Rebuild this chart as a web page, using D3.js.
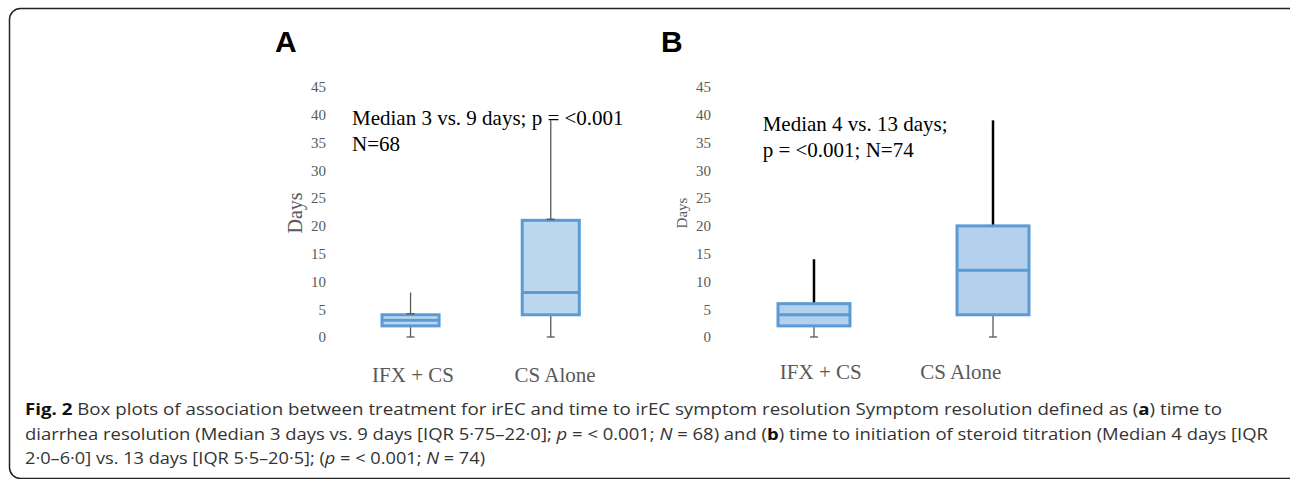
<html>
<head>
<meta charset="utf-8">
<title>Fig. 2 box plots</title>
<style>
  body { margin: 0; background: #fff; }
</style>
</head>
<body>
<script src="https://cdn.jsdelivr.net/npm/d3@7"></script>
<script>
  // ---- data ----
  var categories = ["IFX + CS", "CS Alone"];
  var yTicks = [0, 5, 10, 15, 20, 25, 30, 35, 40, 45];

  // panel A: time to diarrhea resolution
  var aMin = [0, 0];
  var aQ1 = [2, 4];
  var aMedian = [3, 8];
  var aQ3 = [4, 21];
  var aMax = [8, 39];
  var aNote = ["Median 3 vs. 9 days; p = <0.001", "N=68"];

  // panel B: time to initiation of steroid titration
  var bMin = [0, 0];
  var bQ1 = [2, 4];
  var bMedian = [4, 12];
  var bQ3 = [6, 20];
  var bMax = [14, 39];
  var bNote = ["Median 4 vs. 13 days;", "p = <0.001; N=74"];

  var width = 1290, height = 479;
  var svg = d3.select('body').append('svg')
      .attr('width', width)
      .attr('height', height);

  // frame round the figure
  svg.append('rect')
      .attr('x', 9.5).attr('y', 8.5)
      .attr('width', 1290).attr('height', 470)
      .attr('rx', 11)
      .attr('fill', 'none')
      .attr('stroke', '#222')
      .attr('stroke-width', 1.5);

  var y = d3.scaleLinear().domain([0, 45]).range([337, 87]);

  var serif = "'Liberation Serif', 'Times New Roman', serif";
  var blue = '#5b9bd5';

  function drawPanel(p) {
    var g = svg.append('g');
    var n = categories.map(function (c, i) {
      return { c: c, min: p.min[i], q1: p.q1[i], med: p.median[i], q3: p.q3[i], max: p.max[i] };
    });

    // panel letter
    g.append('text')
        .attr('x', p.letterX).attr('y', 52)
        .attr('font-family', "'Liberation Sans', Arial, sans-serif")
        .attr('font-weight', 'bold')
        .attr('font-size', 30)
        .attr('fill', '#000')
        .text(p.letter);

    // y axis: labels only, no line or ticks
    var axis = g.append('g')
        .attr('transform', 'translate(' + p.axisX + ',0)')
        .call(d3.axisLeft(y).tickValues(yTicks).tickSize(0).tickPadding(0));
    axis.select('.domain').remove();
    axis.selectAll('text')
        .attr('font-family', serif)
        .attr('font-size', 15)
        .attr('fill', '#595959');

    g.append('text')
        .attr('transform', 'translate(' + p.titleX + ',213) rotate(-90)')
        .attr('text-anchor', 'middle')
        .attr('dy', '0.35em')
        .attr('font-family', serif)
        .attr('font-size', p.titleSize)
        .attr('fill', '#595959')
        .text('Days');

    // category labels
    var xl = d3.scalePoint().domain(categories).range(p.labelRange).padding(0.5);
    g.selectAll('.cat')
        .data(categories)
        .enter().append('text')
        .attr('class', 'cat')
        .attr('x', function (d) { return xl(d); })
        .attr('y', p.labelY)
        .attr('text-anchor', 'middle')
        .attr('font-family', serif)
        .attr('font-size', 21)
        .attr('fill', '#595959')
        .text(function (d) { return d; });

    // annotation
    g.selectAll('.note')
        .data(p.note)
        .enter().append('text')
        .attr('class', 'note')
        .attr('x', p.noteX)
        .attr('y', function (d, i) { return p.noteY + i * 25.7; })
        .attr('font-family', serif)
        .attr('font-size', 21)
        .attr('fill', '#000')
        .text(function (d) { return d; });

    var x = d3.scaleBand().domain(categories).range(p.boxRange).paddingInner(p.padIn).paddingOuter(0.5);
    var bw = x.bandwidth();
    function cx(d) { return x(d.c) + bw / 2; }

    // lower whiskers with cap
    g.selectAll('.lw').data(n).enter().append('line')
        .attr('x1', cx).attr('x2', cx)
        .attr('y1', function (d) { return y(d.q1); })
        .attr('y2', function (d) { return y(d.min); })
        .attr('stroke', '#595959').attr('stroke-width', 1.3);
    g.selectAll('.lc').data(n).enter().append('line')
        .attr('x1', function (d) { return cx(d) - 4; })
        .attr('x2', function (d) { return cx(d) + 4; })
        .attr('y1', function (d) { return y(d.min); })
        .attr('y2', function (d) { return y(d.min); })
        .attr('stroke', '#595959').attr('stroke-width', 1.3);

    // upper whiskers
    g.selectAll('.uw').data(n).enter().append('line')
        .attr('x1', cx).attr('x2', cx)
        .attr('y1', function (d) { return y(d.q3); })
        .attr('y2', function (d) { return y(d.max); })
        .attr('stroke', p.upperColor).attr('stroke-width', p.upperWidth);

    // boxes
    g.selectAll('.box').data(n).enter().append('rect')
        .attr('x', function (d) { return x(d.c); })
        .attr('y', function (d) { return y(d.q3); })
        .attr('width', bw)
        .attr('height', function (d) { return y(d.q1) - y(d.q3); })
        .attr('fill', p.fill)
        .attr('stroke', blue)
        .attr('stroke-width', 3);

    g.selectAll('.med').data(n).enter().append('line')
        .attr('x1', function (d) { return x(d.c); })
        .attr('x2', function (d) { return x(d.c) + bw; })
        .attr('y1', function (d) { return y(d.med); })
        .attr('y2', function (d) { return y(d.med); })
        .attr('stroke', blue).attr('stroke-width', 3);

    // small cap where the upper whisker meets the box (panel A only)
    if (p.topCap) {
      g.selectAll('.tc').data(n).enter().append('line')
          .attr('x1', function (d) { return cx(d) - 4; })
          .attr('x2', function (d) { return cx(d) + 4; })
          .attr('y1', function (d) { return y(d.q3) - 1; })
          .attr('y2', function (d) { return y(d.q3) - 1; })
          .attr('stroke', '#595959').attr('stroke-width', 1.5);
    }
  }

  drawPanel({
    letter: 'A', letterX: 275,
    min: aMin, q1: aQ1, median: aMedian, q3: aQ3, max: aMax, note: aNote,
    axisX: 326, titleX: 295, titleSize: 20,
    labelRange: [342, 626], labelY: 382,
    noteX: 352, noteY: 125,
    boxRange: [311.9, 649.4], padIn: 0.593,
    fill: '#bdd7ee', upperColor: '#595959', upperWidth: 1.3, topCap: true
  });

  drawPanel({
    letter: 'B', letterX: 661,
    min: bMin, q1: bQ1, median: bMedian, q3: bQ3, max: bMax, note: bNote,
    axisX: 711, titleX: 682, titleSize: 15,
    labelRange: [750.8, 1030.8], labelY: 379,
    noteX: 762.7, noteY: 131,
    boxRange: [688.5, 1118.5], padIn: 0.598,
    fill: '#b4d0ec', upperColor: '#000', upperWidth: 2.5, topCap: false
  });

  // caption
  var cap = svg.append('g')
      .attr('font-family', "'Open Sans', 'Noto Sans', sans-serif")
      .attr('font-size', 16.5)
      .attr('fill', '#333');

  var captionLines = [
    [["b", "Fig. 2"], ["", " Box plots of association between treatment for irEC and time to irEC symptom resolution Symptom resolution defined as ("], ["b", "a"], ["", ") time to"]],
    [["", "diarrhea resolution (Median 3 days vs. 9 days [IQR 5·75–22·0]; "], ["i", "p"], ["", " = < 0.001; "], ["i", "N"], ["", " = 68) and ("], ["b", "b"], ["", ") time to initiation of steroid titration (Median 4 days [IQR"]],
    [["", "2·0–6·0] vs. 13 days [IQR 5·5–20·5]; ("], ["i", "p"], ["", " = < 0.001; "], ["i", "N"], ["", " = 74)"]]
  ];
  var captionWidths = [1197, 1243, 460];

  captionLines.forEach(function (line, i) {
    var t = cap.append('text')
        .attr('x', 25)
        .attr('y', 415 + i * 24.5)
        .attr('textLength', captionWidths[i])
        .attr('lengthAdjust', 'spacingAndGlyphs');
    line.forEach(function (s) {
      var ts = t.append('tspan').text(s[1]);
      if (s[0] === 'b') ts.attr('font-weight', 'bold').attr('fill', '#111');
      if (s[0] === 'i') ts.attr('font-style', 'italic');
    });
  });
</script>
</body>
</html>
